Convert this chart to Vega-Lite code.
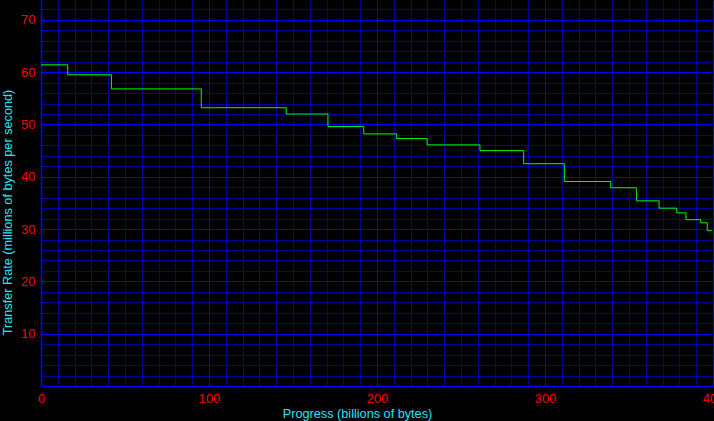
{
  "$schema": "https://vega.github.io/schema/vega-lite/v6.json",
  "autosize": "none",
  "width": 672,
  "height": 386,
  "padding": {"left": 41, "top": 0, "right": 1, "bottom": 35},
  "background": "#000000",
  "config": {
    "view": {"stroke": null, "fill": "#000000"},
    "axis": {
      "labelFont": "Liberation Sans",
      "labelFontSize": 13,
      "labelColor": "#ff0000",
      "titleFont": "Liberation Sans",
      "titleFontSize": 12.7,
      "titleFontWeight": "normal",
      "titleColor": "#22e6f2",
      "ticks": false,
      "tickSize": 0,
      "domainColor": "#0000ff",
      "domainWidth": 1.5,
      "gridOpacity": 1,
      "gridWidth": 1,
      "labelOverlap": false,
      "labelFlush": false
    }
  },
  "data": {
    "values": [
      {"progress": 0, "rate": 61.4},
      {"progress": 15.9, "rate": 59.5},
      {"progress": 41.9, "rate": 56.8},
      {"progress": 95.4, "rate": 53.2},
      {"progress": 146.0, "rate": 52.0},
      {"progress": 170.8, "rate": 49.6},
      {"progress": 192.1, "rate": 48.2},
      {"progress": 211.7, "rate": 47.3},
      {"progress": 229.8, "rate": 46.1},
      {"progress": 261.3, "rate": 45.0},
      {"progress": 287.3, "rate": 42.5},
      {"progress": 311.5, "rate": 39.1},
      {"progress": 339.1, "rate": 37.9},
      {"progress": 354.4, "rate": 35.4},
      {"progress": 367.9, "rate": 34.0},
      {"progress": 378.4, "rate": 33.1},
      {"progress": 383.9, "rate": 31.8},
      {"progress": 392.7, "rate": 31.2},
      {"progress": 396.6, "rate": 29.7},
      {"progress": 399.2, "rate": 29.7}
    ]
  },
  "mark": {"type": "line", "interpolate": "step-after", "color": "#00ff00", "strokeWidth": 1},
  "encoding": {
    "x": {
      "field": "progress",
      "type": "quantitative",
      "scale": {"domain": [0, 400], "nice": false, "zero": false},
      "axis": {
        "title": "Progress (billions of bytes)",
        "values": [0,10,20,30,40,50,60,70,80,90,100,110,120,130,140,150,160,170,180,190,200,210,220,230,240,250,260,270,280,290,300,310,320,330,340,350,360,370,380,390,400],
        "labelExpr": "datum.value % 100 === 0 ? datum.label : ''",
        "gridColor": {"condition": {"test": "datum.value % 100 === 0", "value": "#0000ff"}, "value": "#0000a0"},
        "labelPadding": 6,
        "titleX": 316,
        "titleY": 21,
        "titleBaseline": "top"
      }
    },
    "y": {
      "field": "rate",
      "type": "quantitative",
      "scale": {"domain": [0, 73.8], "nice": false, "zero": false},
      "axis": {
        "title": "Transfer Rate (millions of bytes per second)",
        "values": [0,2,4,6,8,10,12,14,16,18,20,22,24,26,28,30,32,34,36,38,40,42,44,46,48,50,52,54,56,58,60,62,64,66,68,70,72],
        "labelExpr": "datum.value % 10 === 0 && datum.value > 0 ? datum.label : ''",
        "gridColor": {"condition": {"test": "datum.value % 10 === 0", "value": "#0000ff"}, "value": "#0000a0"},
        "labelPadding": 6,
        "titleX": -27,
        "titleY": 212
      }
    }
  }
}
